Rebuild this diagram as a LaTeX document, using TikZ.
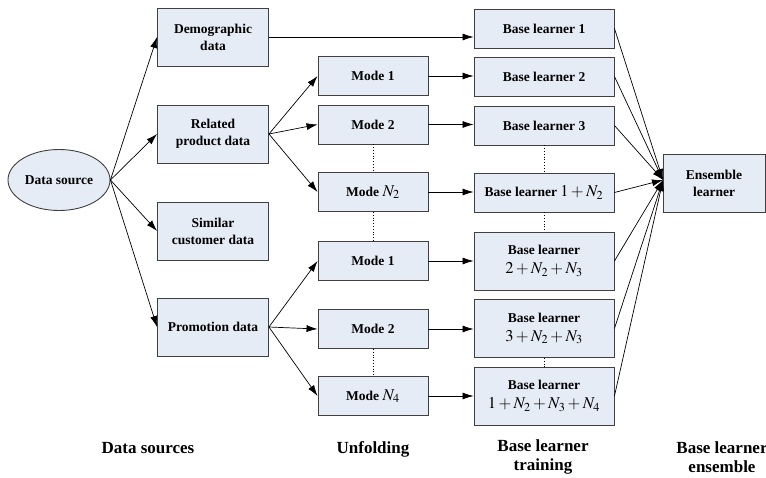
\documentclass[tikz,border=0pt]{standalone}
\usepackage{mathptmx}
\usepackage{fontspec}
\setmainfont{Liberation Serif}
\usetikzlibrary{arrows.meta, shapes.geometric, positioning}

\definecolor{boxfill}{RGB}{230,236,246}
\newcommand{\idx}[1]{{\fontsize{16.5}{18}\selectfont$#1$}}

\begin{document}
\begin{tikzpicture}[
    >={Latex[length=11pt, width=7pt]},
    ->,  % every connector is directed
    line width=0.7pt,
    x=1pt, y=-1pt, % work in pixels of the page, y going down
    every node/.style={font={\fontsize{13.5}{17}\selectfont\bfseries}},
    box/.style={draw=black!75, line width=0.9pt, fill=boxfill, align=center, inner sep=0pt},
    src/.style={box, minimum width=111, minimum height=58},
    mode/.style={box, minimum width=110, minimum height=39},
    base/.style={box, minimum width=140, minimum height=39},
    tall/.style={minimum height=58},
    caption/.style={font={\fontsize{17}{19}\selectfont\bfseries}, align=center},
  ]
  \useasboundingbox (0,0) rectangle (766,477);

  % data sources
  \node[draw=black!75, line width=0.9pt, fill=boxfill, ellipse, inner sep=0pt,
        minimum width=102, minimum height=61] (ds) at (59,180) {Data source};
  \node[src] (demo) at (213,37) {Demographic\\data};
  \node[src] (rel) at (213,134) {Related\\product data};
  \node[src] (sim) at (213,231) {Similar\\customer data};
  \node[src] (promo) at (213,327) {Promotion data};

  % unfolding
  \node[mode] (m1) at (373,76) {Mode 1};
  \node[mode] (m2) at (373,124.5) {Mode 2};
  \node[mode] (mn2) at (373,192) {Mode \idx{N_2}};
  \node[mode] (p1) at (373,261) {Mode 1};
  \node[mode] (p2) at (373,329) {Mode 2};
  \node[mode] (pn4) at (373,396) {Mode \idx{N_4}};

  % base learners
  \node[base] (b1) at (544,28.5) {Base learner 1};
  \node[base] (b2) at (544,76.5) {Base learner 2};
  \node[base] (b3) at (544,125.5) {Base learner 3};
  \node[base] (b4) at (544,192.5) {Base learner \idx{1+N_2}};
  \node[base, tall] (b5) at (544,261) {Base learner\\[2pt] \idx{2+N_2+N_3}};
  \node[base, tall] (b6) at (544,328.5) {Base learner\\[2pt] \idx{3+N_2+N_3}};
  \node[base, tall] (b7) at (544,396) {Base learner\\[2pt] \idx{1+N_2+N_3+N_4}};

  \node[box, minimum width=102, minimum height=58] (ens) at (714,183) {Ensemble\\learner};
  \coordinate (ensin) at (663,180);

  % column captions
  \node[caption] (c1) at (148,448) {Data sources};
  \node[caption] (c2) at (373,449) {Unfolding};
  \node[caption] (c3) at (543,457) {Base learner\\training};
  \node[caption] (c4) at (722,457) {Base learner\\ensemble};

  \draw (ds.east) -- (demo.west);
  \draw (ds.east) -- (rel.west);
  \draw (ds.east) -- (sim.west);
  \draw (ds.east) -- (promo.west);

  \draw (demo.east) -- (demo.east -| b1.west);

  \draw (rel.east) -- (m1.west);
  \draw (rel.east) -- (m2.west);
  \draw (rel.east) -- (mn2.west);
  \draw (promo.east) -- (p1.west);
  \draw (promo.east) -- (p2.west);
  \draw (promo.east) -- (pn4.west);

  \draw (m1.east) -- (m1.east -| b2.west);
  \draw (m2.east) -- (m2.east -| b3.west);
  \draw (mn2.east) -- (mn2.east -| b4.west);
  \draw (p1.east) -- (p1.east -| b5.west);
  \draw (p2.east) -- (p2.east -| b6.west);
  \draw (pn4.east) -- (pn4.east -| b7.west);

  \foreach \i in {1,...,7}
    \draw (b\i.east) -- (ensin);

  % dotted gaps
  \draw[-, dotted, thick] (m2.south) -- (mn2.north);
  \draw[-, dotted, thick] (mn2.south) -- (p1.north);
  \draw[-, dotted, thick] (p2.south) -- (pn4.north);
  \draw[-, dotted, thick] (b3.south) -- (b4.north);
  \draw[-, dotted, thick] (b4.south) -- (b5.north);
  \draw[-, dotted, thick] (b6.south) -- (b7.north);

\end{tikzpicture}
\end{document}
